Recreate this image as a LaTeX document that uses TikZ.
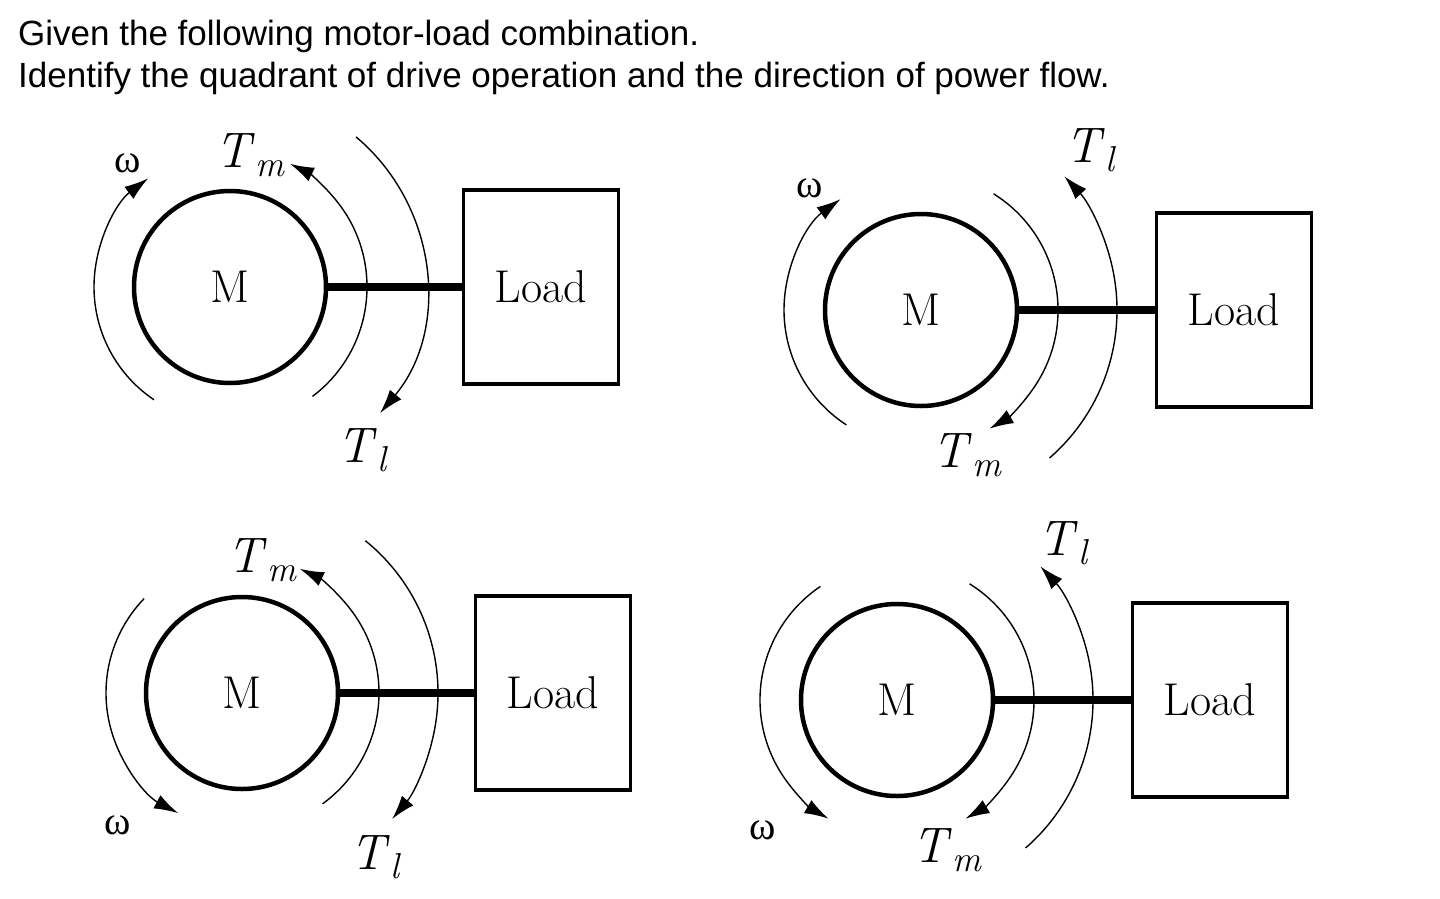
\documentclass[tikz,border=0pt]{standalone}
\usepackage{fontspec}
\newfontfamily\titlefont{Liberation Sans}
\newfontfamily\greekfont{Liberation Serif}
\usetikzlibrary{arrows.meta}
\newcommand{\Tsub}[1]{\textit{T}\raisebox{-9pt}{\fontsize{36}{36}\selectfont\itshape #1}}
\newcommand{\omg}{{\greekfont\fontsize{40}{44}\selectfont ω}}
\begin{document}
\begin{tikzpicture}[x=1pt,y=-1pt,
  motor/.style={circle,draw,line width=4.5pt,minimum size=192pt,inner sep=0pt,font=\fontsize{46}{50}\selectfont},
  load/.style={rectangle,draw,line width=3.5pt,minimum width=155pt,minimum height=194pt,inner sep=0pt,font=\fontsize{46}{50}\selectfont},
  shaft/.style={line width=8pt},
  rot/.style={line width=1.4pt},
  rota/.style={rot,-{Latex[length=24pt,width=15pt]}},
  lab/.style={font=\fontsize{50}{54}\selectfont},
  title/.style={anchor=base west,inner sep=0pt,font=\titlefont\fontsize{35}{40}\selectfont}]
\useasboundingbox (0,0) rectangle (1440,898);
\node[title] (t1) at (18,45) {Given the following motor-load combination.};
\node[title] (t2) at (18,87) {Identify the quadrant of drive operation and the direction of power flow.};

% Diagram 1
\node[motor] (m1) at (230,287) {M};
\node[load] (l1) at (541,287) {Load};
\draw[shaft] (m1.east) -- (l1.west);
\begin{scope}[shift={(230,287)},y=1pt]
\draw[rota] (236:136) arc[start angle=236,end angle=127,radius=136];
\draw[rota] (-53:137) arc[start angle=-53,end angle=64,radius=137];
\draw[rota] (50:196) arc[start angle=50,end angle=-40,radius=196];
\end{scope}
\node[lab] (w1) at (128,163) {\omg};
\node[lab] (tm1) at (250,155) {\Tsub{m}};
\node[lab] (tl1) at (362,450) {\Tsub{l}};

% Diagram 2
\node[motor] (m2) at (921,310) {M};
\node[load] (l2) at (1234,310) {Load};
\draw[shaft] (m2.east) -- (l2.west);
\begin{scope}[shift={(921,310)},y=1pt]
\draw[rota] (237:137) arc[start angle=237,end angle=126,radius=137];
\draw[rota] (58:137) arc[start angle=58,end angle=-60,radius=137];
\draw[rota] (-49:196) arc[start angle=-49,end angle=43,radius=196];
\end{scope}
\node[lab] (w2) at (810,188) {\omg};
\node[lab] (tl2) at (1090,150) {\Tsub{l}};
\node[lab] (tm2) at (967,455) {\Tsub{m}};

% Diagram 3
\node[motor] (m3) at (242,693) {M};
\node[load] (l3) at (553,693) {Load};
\draw[shaft] (m3.east) -- (l3.west);
\begin{scope}[shift={(242,693)},y=1pt]
\draw[rota] (136:136) arc[start angle=136,end angle=242,radius=136];
\draw[rota] (-54:137) arc[start angle=-54,end angle=65,radius=137];
\draw[rota] (51:196) arc[start angle=51,end angle=-40,radius=196];
\end{scope}
\node[lab] (w3) at (118,825) {\omg};
\node[lab] (tm3) at (262,560) {\Tsub{m}};
\node[lab] (tl3) at (375,857) {\Tsub{l}};

% Diagram 4
\node[motor] (m4) at (897,700) {M};
\node[load] (l4) at (1210,700) {Load};
\draw[shaft] (m4.east) -- (l4.west);
\begin{scope}[shift={(897,700)},y=1pt]
\draw[rota] (124:137) arc[start angle=124,end angle=240,radius=137];
\draw[rota] (58:137) arc[start angle=58,end angle=-60,radius=137];
\draw[rota] (-49:196) arc[start angle=-49,end angle=43,radius=196];
\end{scope}
\node[lab] (w4) at (763,830) {\omg};
\node[lab] (tl4) at (1063,543) {\Tsub{l}};
\node[lab] (tm4) at (947,850) {\Tsub{m}};
\end{tikzpicture}
\end{document}
